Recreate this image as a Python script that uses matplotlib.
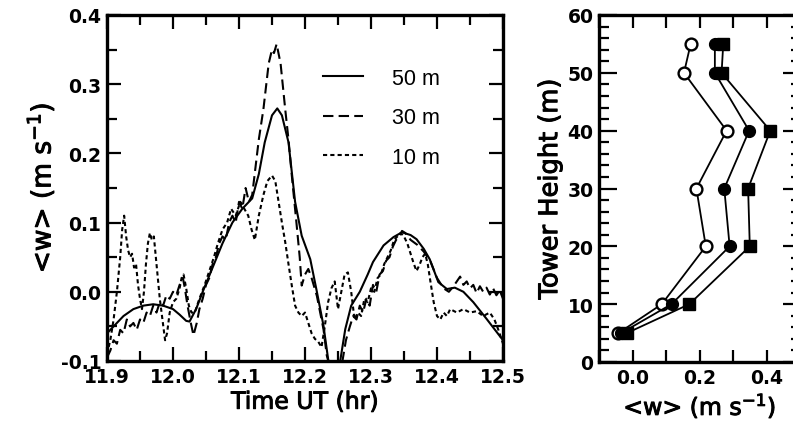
import matplotlib
matplotlib.use("Agg")
import matplotlib.pyplot as plt
from matplotlib.ticker import MultipleLocator, FixedLocator
import matplotlib.patheffects as pe

plt.rcParams['font.family'] = ['DejaVu Sans']
plt.rcParams['mathtext.fontset'] = 'dejavusans'

# ---------------- data: left panel (time series) ----------------
t50 = [11.900, 11.910, 11.925, 11.940, 11.955, 11.970, 11.985, 12.000, 12.010, 12.020,
       12.025, 12.035, 12.045, 12.060, 12.075, 12.090, 12.105, 12.120, 12.130, 12.139,
       12.150, 12.158, 12.165, 12.175, 12.185, 12.195, 12.208, 12.218, 12.228, 12.235,
       12.240, 12.250, 12.255, 12.261, 12.270, 12.283, 12.295, 12.303, 12.319, 12.334,
       12.347, 12.360, 12.369, 12.380, 12.389, 12.402, 12.415, 12.427, 12.440, 12.455,
       12.475, 12.500]
w50 = [-0.060, -0.050, -0.035, -0.025, -0.020, -0.018, -0.020, -0.025, -0.033, -0.042,
       -0.043, -0.025, 0.000, 0.035, 0.070, 0.100, 0.120, 0.135, 0.170, 0.216,
       0.255, 0.265, 0.255, 0.216, 0.130, 0.081, 0.047, 0.000, -0.049, -0.097,
       -0.120, -0.120, -0.090, -0.054, -0.020, 0.000, 0.025, 0.043, 0.067, 0.079,
       0.086, 0.082, 0.076, 0.062, 0.047, 0.014, 0.004, 0.006, 0.000, -0.015,
       -0.039, -0.070]

t30 = [11.900, 11.905, 11.910, 11.915, 11.920, 11.925, 11.930, 11.935, 11.940, 11.945,
       11.950, 11.955, 11.960, 11.965, 11.970, 11.975, 11.980, 11.985, 11.990, 11.995,
       12.000, 12.005, 12.010, 12.015, 12.018, 12.022, 12.027, 12.031, 12.036, 12.040,
       12.045, 12.050, 12.055, 12.060, 12.065, 12.070, 12.075, 12.080, 12.085, 12.090,
       12.095, 12.100, 12.105, 12.110, 12.115, 12.120, 12.125, 12.130, 12.137, 12.145,
       12.150, 12.153, 12.157, 12.163, 12.170, 12.175, 12.180, 12.187, 12.192, 12.195,
       12.200, 12.205, 12.210, 12.218, 12.223, 12.228, 12.233, 12.238, 12.255, 12.262,
       12.268, 12.273, 12.278, 12.283, 12.288, 12.293, 12.298, 12.303, 12.308, 12.313,
       12.318, 12.323, 12.328, 12.333, 12.338, 12.343, 12.347, 12.352, 12.360, 12.370,
       12.380, 12.390, 12.400, 12.410, 12.418, 12.425, 12.430, 12.435, 12.440, 12.445,
       12.450, 12.455, 12.460, 12.465, 12.470, 12.475, 12.480, 12.485, 12.490, 12.495,
       12.500]
w30 = [-0.095, -0.085, -0.070, -0.075, -0.055, -0.060, -0.040, -0.050, -0.045, -0.055,
       -0.040, -0.045, -0.030, -0.035, -0.020, -0.030, -0.015, -0.020, -0.005, -0.010,
       0.000, -0.005, 0.010, 0.020, 0.005, -0.020, -0.045, -0.063, -0.045, -0.025,
       -0.010, 0.010, 0.020, 0.040, 0.050, 0.070, 0.080, 0.075, 0.100, 0.110,
       0.100, 0.130, 0.120, 0.150, 0.130, 0.140, 0.180, 0.220, 0.264, 0.330,
       0.350, 0.345, 0.358, 0.330, 0.264, 0.220, 0.168, 0.100, 0.050, 0.009,
       0.025, 0.033, 0.020, -0.006, -0.030, -0.054, -0.092, -0.110, -0.110, -0.070,
       -0.050, -0.035, -0.040, -0.020, -0.030, -0.010, -0.020, 0.010, 0.000, 0.025,
       0.030, 0.045, 0.050, 0.065, 0.075, 0.080, 0.088, 0.085, 0.075, 0.068,
       0.058, 0.044, 0.020, 0.005, 0.000, 0.008, 0.015, 0.022, 0.010, 0.015,
       0.005, 0.010, -0.002, 0.008, 0.000, 0.006, -0.004, 0.005, -0.005, 0.002,
       -0.010]

t10 = [11.900, 11.905, 11.910, 11.915, 11.920, 11.923, 11.926, 11.929, 11.932, 11.935,
       11.938, 11.941, 11.944, 11.947, 11.950, 11.953, 11.956, 11.959, 11.962, 11.965,
       11.968, 11.971, 11.974, 11.977, 11.980, 11.984, 11.988, 11.991, 11.995, 12.000,
       12.005, 12.010, 12.013, 12.016, 12.020, 12.024, 12.028, 12.033, 12.040, 12.048,
       12.055, 12.062, 12.068, 12.075, 12.082, 12.088, 12.095, 12.102, 12.108, 12.114,
       12.119, 12.124, 12.130, 12.137, 12.143, 12.150, 12.155, 12.160, 12.165, 12.170,
       12.175, 12.180, 12.185, 12.190, 12.195, 12.200, 12.205, 12.210, 12.215, 12.220,
       12.225, 12.230, 12.235, 12.240, 12.245, 12.250, 12.255, 12.260, 12.265, 12.270,
       12.275, 12.280, 12.285, 12.290, 12.295, 12.300, 12.305, 12.310, 12.315, 12.320,
       12.325, 12.330, 12.335, 12.340, 12.345, 12.350, 12.355, 12.360, 12.365, 12.369,
       12.374, 12.378, 12.382, 12.386, 12.390, 12.395, 12.400, 12.405, 12.410, 12.415,
       12.420, 12.430, 12.440, 12.450, 12.460, 12.470, 12.480, 12.487, 12.493, 12.500]
w10 = [-0.090, -0.070, -0.040, 0.000, 0.050, 0.090, 0.110, 0.080, 0.060, 0.050,
       0.055, 0.035, 0.040, 0.010, -0.010, -0.025, 0.000, 0.040, 0.070, 0.085,
       0.075, 0.080, 0.050, 0.020, -0.010, -0.040, -0.070, -0.060, -0.030, -0.015,
       -0.010, 0.005, 0.020, 0.025, 0.005, -0.020, -0.030, -0.030, -0.010, 0.010,
       0.030, 0.050, 0.070, 0.090, 0.100, 0.120, 0.110, 0.130, 0.120, 0.110,
       0.090, 0.075, 0.110, 0.140, 0.160, 0.168, 0.160, 0.130, 0.100, 0.072,
       0.040, 0.009, -0.020, -0.030, -0.035, -0.030, -0.045, -0.060, -0.068, -0.072,
       -0.080, -0.050, -0.015, 0.005, 0.015, -0.025, 0.000, 0.025, 0.028, 0.000,
       -0.040, -0.030, -0.035, -0.010, -0.015, 0.005, 0.000, 0.020, 0.025, 0.040,
       0.050, 0.060, 0.075, 0.080, 0.085, 0.080, 0.070, 0.055, 0.040, 0.030,
       0.040, 0.050, 0.055, 0.040, 0.015, -0.015, -0.035, -0.040, -0.030, -0.035,
       -0.025, -0.030, -0.025, -0.030, -0.028, -0.035, -0.030, -0.040, -0.055, -0.075]

series_labels = ['50 m', '30 m', '10 m']

# ---------------- data: right panel (profiles) ----------------
heights = [5, 10, 20, 30, 40, 50, 55]
w_open_circle = [-0.042, 0.087, 0.218, 0.190, 0.280, 0.153, 0.173]
w_filled_circle = [-0.034, 0.116, 0.289, 0.273, 0.347, 0.245, 0.245]
w_filled_square = [-0.017, 0.169, 0.349, 0.344, 0.410, 0.265, 0.270]

W, H = 793, 427
fig = plt.figure(figsize=(W / 100, H / 100), dpi=100)
ax1 = fig.add_axes([107 / W, 1 - 362 / H, (503 - 107) / W, (362 - 16) / H])
ax2 = fig.add_axes([599 / W, 1 - 363 / H, (800.5 - 599) / W, (363 - 16) / H])

lw = 1.5
ax1.plot(t50, w50, color='black', lw=lw, ls='-', label=series_labels[0])
ax1.plot(t30, w30, color='black', lw=lw, ls=(0, (5, 2.5)), label=series_labels[1])
ax1.plot(t10, w10, color='black', lw=lw, ls=(0, (2, 1.5)), label=series_labels[2])
ax1.set_xlim(11.9, 12.5)
ax1.set_ylim(-0.1, 0.4)
ax1.xaxis.set_major_locator(MultipleLocator(0.1))
ax1.xaxis.set_minor_locator(MultipleLocator(0.05))
ax1.yaxis.set_major_locator(MultipleLocator(0.1))
ax1.yaxis.set_minor_locator(MultipleLocator(0.05))
fmt = plt.FuncFormatter(lambda v, p: f"{v:.1f}")
ax1.xaxis.set_major_formatter(fmt)
ax1.yaxis.set_major_formatter(fmt)

stroke = [pe.withStroke(linewidth=0.7, foreground='black')]
lab_kw = dict(fontweight='normal', path_effects=stroke)
ax1.set_xlabel('Time UT (hr)', labelpad=3, fontsize=17, **lab_kw)
ax1.set_ylabel('<w> (m s$^{-1}$)', labelpad=3, fontsize=19, **lab_kw)

leg = ax1.legend(loc='upper left', bbox_to_anchor=(0.524, 0.873), frameon=False,
                 prop={'family': 'Liberation Sans', 'size': 15.5},
                 handlelength=1.86, handletextpad=1.35, labelspacing=0.86,
                 borderaxespad=0)

ms = 8.5
ax2.plot(w_open_circle, heights, color='black', lw=1.3, marker='o', ms=ms,
         mfc='white', mec='black', mew=1.7)
ax2.plot(w_filled_circle, heights, color='black', lw=1.3, marker='o', ms=ms,
         mfc='black', mec='black')
ax2.plot(w_filled_square, heights, color='black', lw=1.3, marker='s', ms=ms - 0.5,
         mfc='black', mec='black')
ax2.set_xlim(-0.1, 0.5)
ax2.set_ylim(0, 60)
ax2.xaxis.set_major_locator(FixedLocator([0.0, 0.2, 0.4]))
ax2.xaxis.set_minor_locator(FixedLocator([-0.1, 0.1, 0.3, 0.5]))
ax2.yaxis.set_major_locator(MultipleLocator(10))
ax2.yaxis.set_minor_locator(MultipleLocator(2))
ax2.xaxis.set_major_formatter(fmt)
ax2.set_xlabel('<w> (m s$^{-1}$)', labelpad=3, fontsize=17, **lab_kw)
ax2.set_ylabel('Tower Height (m)', labelpad=3, fontsize=18.5, **lab_kw)

for ax in (ax1, ax2):
    for s in ax.spines.values():
        s.set_linewidth(2.4)
    ax.tick_params(which='both', direction='in', top=True, right=True, width=1.6)
    ax.tick_params(which='major', length=10, labelsize=13.5, pad=4)
    ax.tick_params(which='minor', length=7)
    for lab in ax.get_xticklabels() + ax.get_yticklabels():
        lab.set_fontweight('bold')
ax2.tick_params(axis='x', which='minor', length=9)
ax2.tick_params(axis='x', which='major', length=9)
ax2.tick_params(axis='y', which='major', length=13)

fig.savefig('out.png', dpi=100)
